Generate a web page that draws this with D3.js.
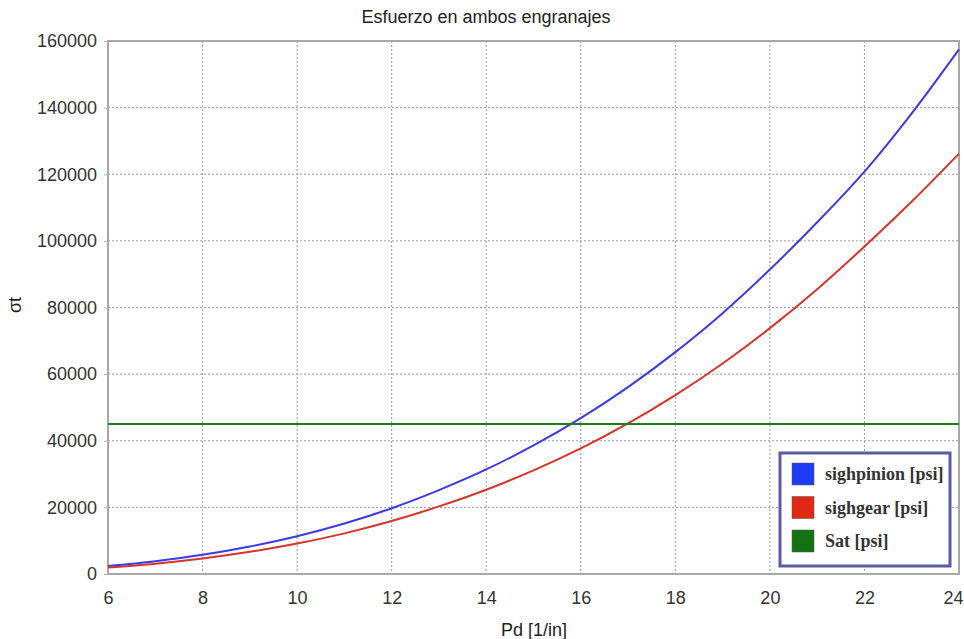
<!DOCTYPE html>
<html>
<head>
<meta charset="utf-8">
<script src="https://cdn.jsdelivr.net/npm/d3@7"></script>
<style>
  html, body { margin: 0; padding: 0; background: #fff; }
  svg { display: block; }
</style>
</head>
<body>
<svg id="chart" width="964" height="639"></svg>
<script>
// Diametral pitch values [1/in]
const pd = [6, 7, 8, 9, 10, 11, 12, 13, 14, 15, 16, 17, 18, 19, 20, 21, 22, 23, 24];
// Bending stress in the pinion [psi]
const sighpinion = [2400, 3850, 5750, 8250, 11350, 15150, 19750, 25200, 31400, 38600,
                    46800, 56100, 66600, 78300, 91400, 105600, 120800, 138300, 157500];
// Bending stress in the gear [psi]
const sighgear = [1950, 3100, 4650, 6650, 9150, 12200, 15900, 20300, 25300, 31100,
                  37700, 45200, 53700, 63200, 73800, 85500, 98300, 111800, 126200];
// Allowable stress [psi]
const sat = 45000;

const xTicks = [6, 8, 10, 12, 14, 16, 18, 20, 22, 24];
const yTicks = [0, 20000, 40000, 60000, 80000, 100000, 120000, 140000, 160000];

const series = [
  { name: "sighpinion [psi]", values: sighpinion, color: "#3a3ae6", swatch: "#1f3cf5" },
  { name: "sighgear [psi]", values: sighgear, color: "#d6342a", swatch: "#e02814" },
  { name: "Sat [psi]", values: pd.map(() => sat), color: "#1e7d1e", swatch: "#137313" }
];

const svg = d3.select("#chart");
const plotL = 108, plotR = 959, plotT = 41, plotB = 574;

const x = d3.scaleLinear().domain([6, 24]).range([plotL, plotR]);
const y = d3.scaleLinear().domain([0, 160000]).range([plotB, plotT]);

const font = "Arial, 'Liberation Sans', sans-serif";
const tickSize = 18;

// dotted grid
const grid = svg.append("g");
grid.selectAll("line.vx").data(xTicks.slice(1, -1)).join("line")
  .attr("x1", d => x(d)).attr("x2", d => x(d))
  .attr("y1", plotT).attr("y2", plotB)
  .attr("stroke", "#9a9a9a").attr("stroke-width", 1).attr("stroke-dasharray", "2,2");
grid.selectAll("line.hy").data(yTicks.slice(1, -1)).join("line")
  .attr("x1", plotL).attr("x2", plotR)
  .attr("y1", d => y(d)).attr("y2", d => y(d))
  .attr("stroke", "#9a9a9a").attr("stroke-width", 1).attr("stroke-dasharray", "2,2");

// frame
svg.append("rect")
  .attr("x", plotL).attr("y", plotT)
  .attr("width", plotR - plotL).attr("height", plotB - plotT)
  .attr("fill", "none").attr("stroke", "#a8a8a8").attr("stroke-width", 2);

// axes
const yAxis = d3.axisLeft(y).tickValues(yTicks).tickSize(4).tickPadding(7).tickFormat(d3.format("d"));
const gy = svg.append("g").attr("transform", `translate(${plotL},0)`).call(yAxis);
gy.select(".domain").remove();
gy.selectAll("line").attr("stroke", "#b0b0b0");
gy.selectAll("text").attr("font-family", font).attr("font-size", tickSize).attr("fill", "#333");

const xAxis = d3.axisBottom(x).tickValues(xTicks).tickSize(0).tickPadding(17).tickFormat(d3.format("d"));
const gx = svg.append("g").attr("transform", `translate(0,${plotB})`).call(xAxis);
gx.select(".domain").remove();
gx.selectAll("text").attr("font-family", font).attr("font-size", tickSize).attr("fill", "#333");
// keep the last label inside the page
gx.selectAll(".tick").filter(d => d === 24).select("text")
  .attr("text-anchor", "end").attr("x", 4);

// curves
const line = d3.line()
  .x((d, i) => x(pd[i]))
  .y(d => y(d))
  .curve(d3.curveMonotoneX);

svg.append("g").selectAll("path").data(series).join("path")
  .attr("d", s => line(s.values))
  .attr("fill", "none")
  .attr("stroke", s => s.color)
  .attr("stroke-width", 2);

// titles
svg.append("text").attr("x", 486).attr("y", 23)
  .attr("text-anchor", "middle").attr("font-family", font).attr("font-size", 18)
  .attr("fill", "#222").text("Esfuerzo en ambos engranajes");

svg.append("text").attr("x", 534).attr("y", 636)
  .attr("text-anchor", "middle").attr("font-family", font).attr("font-size", 18)
  .attr("fill", "#222").text("Pd [1/in]");

svg.append("text")
  .attr("transform", "translate(21,305) rotate(-90)")
  .attr("text-anchor", "middle").attr("font-family", font).attr("font-size", 18)
  .attr("fill", "#222").text("σt");

// legend
const lg = svg.append("g");
lg.append("rect").attr("x", 780).attr("y", 453).attr("width", 170).attr("height", 113)
  .attr("fill", "#fff").attr("stroke", "#5b5ba6").attr("stroke-width", 3);
const items = lg.selectAll("g.item").data(series).join("g")
  .attr("transform", (d, i) => `translate(792,${463 + i * 33.5})`);
items.append("rect").attr("width", 22).attr("height", 22)
  .attr("fill", d => d.swatch).attr("stroke", "#555").attr("stroke-width", 0.5);
items.append("text").attr("x", 33).attr("y", 17)
  .attr("font-family", "'Liberation Serif', 'DejaVu Serif', serif")
  .attr("font-size", 18).attr("font-weight", "bold").attr("fill", "#333")
  .text(d => d.name);
</script>
</body>
</html>
